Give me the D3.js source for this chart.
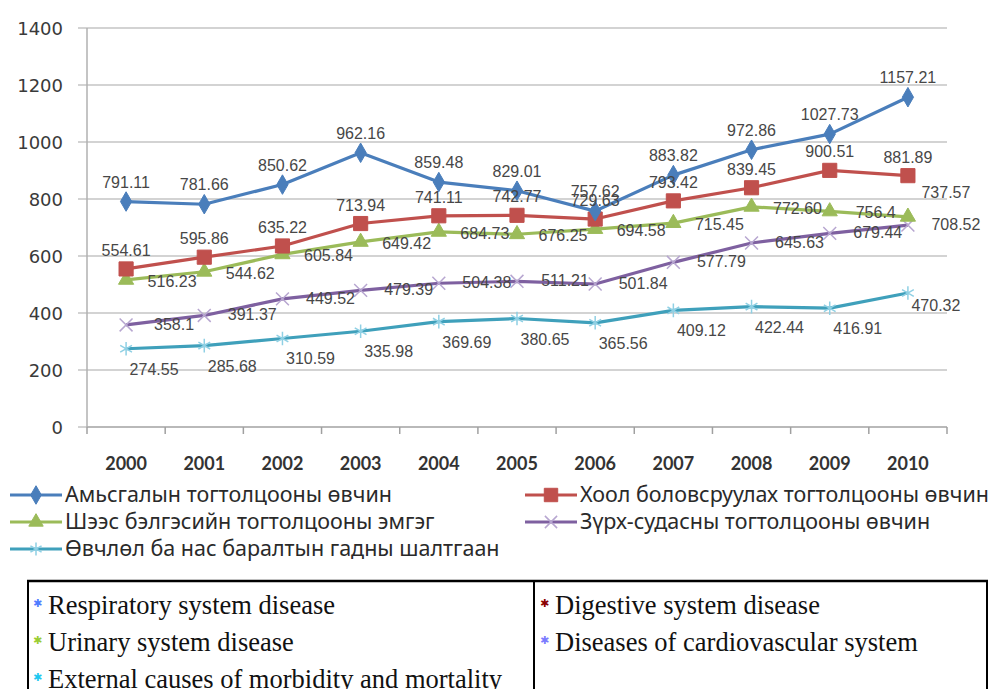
<!DOCTYPE html>
<html>
<head>
<meta charset="utf-8">
<title>Өвчлөлийн шалтгаан 2000-2010</title>
<script src="https://cdn.jsdelivr.net/npm/d3@7"></script>
<style>
  body { margin: 0; background: #fff; }
  svg { display: block; }
  .grid line { stroke: #c4c4c4; stroke-width: 1.5; }
  .lbl { font-family: "Liberation Sans", Arial, sans-serif; font-size: 16px; fill: #474747; }
</style>
</head>
<body>
<script>
// ---- data (labels keep the precision printed on the chart) ----
var years = ["2000", "2001", "2002", "2003", "2004", "2005", "2006", "2007", "2008", "2009", "2010"];
var respiratory = ["791.11", "781.66", "850.62", "962.16", "859.48", "829.01", "757.62", "883.82", "972.86", "1027.73", "1157.21"];
var digestive   = ["554.61", "595.86", "635.22", "713.94", "741.11", "742.77", "729.63", "793.42", "839.45", "900.51", "881.89"];
var urinary     = ["516.23", "544.62", "605.84", "649.42", "684.73", "676.25", "694.58", "715.45", "772.60", "756.4", "737.57"];
var cardio      = ["358.1", "391.37", "449.52", "479.39", "504.38", "511.21", "501.84", "577.79", "645.63", "679.44", "708.52"];
var external    = ["274.55", "285.68", "310.59", "335.98", "369.69", "380.65", "365.56", "409.12", "422.44", "416.91", "470.32"];
var yTicks = [0, 200, 400, 600, 800, 1000, 1200, 1400];
var mnNames = ["Амьсгалын тогтолцооны өвчин", "Хоол боловсруулах тогтолцооны өвчин",
               "Шээс бэлгэсийн тогтолцооны эмгэг", "Зүрх-судасны тогтолцооны өвчин",
               "Өвчлөл ба нас баралтын гадны шалтгаан"];
var enNames = ["Respiratory system disease", "Digestive system disease", "Urinary system disease",
               "Diseases of cardiovascular system", "External causes of morbidity and mortality"];

// series styles (colour, marker, label offset)
var series = [
  {values: respiratory, color: "#4a7ebb", fill: "#4a7ebb", sym: d3.symbolDiamond, size: 110, dx: 0, dy: -19, name: mnNames[0], bullet: "#4f7cff"},
  {values: digestive,   color: "#c0504d", fill: "#c0504d", sym: d3.symbolSquare,  size: 200, dx: 0, dy: -18, name: mnNames[1], bullet: "#8b0000"},
  {values: urinary,     color: "#9bbb59", fill: "#9bbb59", sym: d3.symbolTriangle, size: 100, dx: 46, dy: 2, lastDx: 38, lastDy: -24, name: mnNames[2], bullet: "#9acd32"},
  {values: cardio,      color: "#7e60a0", fill: "none",    sym: d3.symbolX,       size: 110, dx: 48, dy: 0, name: mnNames[3], bullet: "#7b7bff", mark: "#b7a6d0"},
  {values: external,    color: "#3fa0bb", fill: "none",    sym: d3.symbolAsterisk, size: 130, dx: 28, dy: 21, lastDx: 28, lastDy: 13, name: mnNames[4], bullet: "#1ec8f0", mark: "#8fd0e4"}
];

var W = 997, H = 689;
var svg = d3.select("body").append("svg").attr("width", W).attr("height", H);

// unit caption, cut off at the very top as in the source image
svg.append("text").attr("x", 12).attr("y", -4)
  .style("font-family", "DejaVu Sans").style("font-size", "18px").style("fill", "#444")
  .text("(10000 хүн амд)");

var x = d3.scaleBand().domain(years).range([87, 947]);
var y = d3.scaleLinear().domain([0, 1400]).range([427, 28]);

// gridlines + y axis
var grid = svg.append("g").attr("class", "grid");
grid.selectAll("line").data(yTicks).enter().append("line")
  .attr("x1", 78).attr("x2", 947)
  .attr("y1", function(d) { return y(d); }).attr("y2", function(d) { return y(d); });

svg.append("line").attr("x1", 87).attr("x2", 87).attr("y1", y(1400)).attr("y2", y(0))
  .attr("stroke", "#b0b0b0").attr("stroke-width", 1.5);

svg.selectAll(".ytick").data(yTicks).enter().append("text")
  .attr("x", 63).attr("y", function(d) { return y(d) + 7; })
  .attr("text-anchor", "end")
  .style("font-family", "DejaVu Sans").style("font-size", "18px").style("fill", "#3a3a3a")
  .text(function(d) { return d; });

// x axis
svg.append("line").attr("x1", 87).attr("x2", 947).attr("y1", y(0)).attr("y2", y(0))
  .attr("stroke", "#b0b0b0").attr("stroke-width", 1.5);
svg.selectAll(".xtick").data(years.concat(["end"])).enter().append("line")
  .attr("x1", function(d) { return d === "end" ? x.range()[1] : x(d); })
  .attr("x2", function(d) { return d === "end" ? x.range()[1] : x(d); })
  .attr("y1", y(0)).attr("y2", y(0) + 7)
  .attr("stroke", "#a0a0a0").attr("stroke-width", 1.5);
svg.selectAll(".xlab").data(years).enter().append("text")
  .attr("x", function(d) { return x(d) + x.bandwidth() / 2; })
  .attr("y", 470).attr("text-anchor", "middle")
  .style("font-family", "Lato").style("font-weight", "bold").style("font-size", "18px").style("fill", "#333")
  .text(function(d) { return d; });

var cx = function(i) { return x(years[i]) + x.bandwidth() / 2; };
var line = d3.line().x(function(d, i) { return cx(i); }).y(function(d) { return y(+d); });

function drawMarker(g, s, size) {
  return g.append("path")
    .attr("d", d3.symbol().type(s.sym).size(size)())
    .attr("fill", s.fill)
    .attr("stroke", s.mark || s.color)
    .attr("stroke-width", s.mark ? 1.5 : 1);
}

// lines and markers (bottom series first)
series.slice().reverse().forEach(function(s) {
  var g = svg.append("g");
  g.append("path").datum(s.values).attr("d", line)
    .attr("fill", "none").attr("stroke", s.color).attr("stroke-width", 3.2)
    .attr("stroke-linejoin", "round");
  s.values.forEach(function(v, i) {
    var m = g.append("g").attr("transform", "translate(" + cx(i) + "," + y(+v) + ")");
    drawMarker(m, s, s.size);
  });
});

// data labels
series.forEach(function(s) {
  var n = s.values.length;
  svg.append("g").selectAll("text").data(s.values).enter().append("text")
    .attr("class", "lbl")
    .attr("x", function(d, i) { return cx(i) + (i === n - 1 && s.lastDx != null ? s.lastDx : s.dx); })
    .attr("y", function(d, i) { return y(+d) + (i === n - 1 && s.lastDy != null ? s.lastDy : s.dy) + 5; })
    .attr("text-anchor", "middle")
    .text(function(d) { return d; });
});

// legend
var legPos = [[10, 495], [525, 495], [10, 522], [525, 522], [10, 549]];
series.forEach(function(s, i) {
  var g = svg.append("g").attr("transform", "translate(" + legPos[i][0] + "," + legPos[i][1] + ")");
  g.append("line").attr("x1", 0).attr("x2", 52).attr("stroke", s.color).attr("stroke-width", 3.2);
  var m = g.append("g").attr("transform", "translate(26,0)");
  drawMarker(m, s, s.size * 0.9);
  g.append("text").attr("x", 55).attr("y", 7)
    .style("font-family", "Noto Sans").style("font-size", "21.5px").style("fill", "#2a2a2a")
    .text(s.name);
});

// english table below
var tb = svg.append("g");
tb.append("line").attr("x1", 27).attr("x2", 988).attr("y1", 581).attr("y2", 581).attr("stroke", "#000").attr("stroke-width", 2.5);
[28, 534, 987].forEach(function(xx) {
  tb.append("line").attr("x1", xx).attr("x2", xx).attr("y1", 580).attr("y2", H).attr("stroke", "#000").attr("stroke-width", 2);
});
var tPos = [[33, 614], [540, 614], [33, 651], [540, 651], [33, 688]];
var bulletColors = [series[0].bullet, series[1].bullet, series[2].bullet, series[3].bullet, series[4].bullet];
enNames.forEach(function(t, i) {
  tb.append("text").attr("x", tPos[i][0]).attr("y", tPos[i][1] - 7)
    .style("font-family", "DejaVu Sans").style("font-size", "11px").style("font-weight", "bold")
    .style("fill", bulletColors[i]).text("✱");
  tb.append("text").attr("x", tPos[i][0] + 15).attr("y", tPos[i][1])
    .style("font-family", "Liberation Serif").style("font-size", "26.5px").style("fill", "#111")
    .text(t);
});
</script>
</body>
</html>
